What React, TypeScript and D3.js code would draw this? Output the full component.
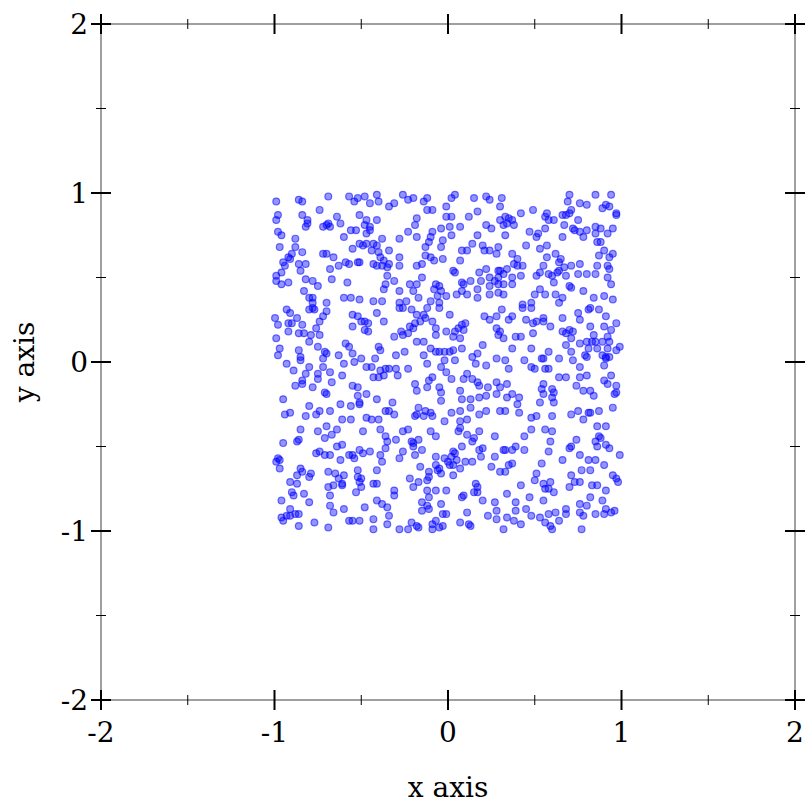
import React, { useEffect, useRef } from 'react';
import * as d3 from 'd3';

const majorTicks = [-2, -1, 0, 1, 2];
const minorTicks = [-1.5, -0.5, 0.5, 1.5];
const xLabel = 'x axis';
const yLabel = 'y axis';

// points, grouped by region of the square
const topLeft: [number, number][] = [
	[-0.99, 0.95], [-0.86, 0.96], [-0.84, 0.95], [-0.69, 0.98], [-0.57, 0.98], [-0.52, 0.97], [-0.48, 0.98], [-0.41, 0.99],
	[-0.45, 0.94], [-0.40, 0.95], [-0.34, 0.92], [-0.54, 0.95], [-0.74, 0.90], [-0.98, 0.87], [-0.99, 0.84], [-0.84, 0.87],
	[-0.81, 0.84], [-0.82, 0.80], [-0.81, 0.82], [-0.70, 0.81], [-0.69, 0.82], [-0.68, 0.80], [-0.72, 0.80], [-0.64, 0.86],
	[-0.62, 0.82], [-0.51, 0.87], [-0.47, 0.84], [-0.48, 0.81], [-0.45, 0.80], [-0.45, 0.78], [-0.47, 0.76], [-0.41, 0.84],
	[-0.56, 0.78], [-0.53, 0.78], [-0.60, 0.74], [-0.98, 0.77], [-0.96, 0.75], [-0.88, 0.73], [-0.38, 0.73], [-0.97, 0.68],
	[-0.88, 0.68], [-0.90, 0.64], [-0.92, 0.62], [-0.91, 0.61], [-0.84, 0.65], [-0.72, 0.64], [-0.70, 0.64], [-0.66, 0.62],
	[-0.55, 0.67], [-0.51, 0.70], [-0.49, 0.69], [-0.47, 0.70], [-0.43, 0.70], [-0.41, 0.69], [-0.44, 0.66], [-0.40, 0.65],
	[-0.34, 0.66], [-0.39, 0.62], [-0.37, 0.60], [-0.34, 0.58], [-0.95, 0.59], [-0.94, 0.57], [-0.86, 0.58], [-0.82, 0.58],
	[-0.63, 0.57], [-0.59, 0.59], [-0.57, 0.58], [-0.52, 0.59], [-0.51, 0.59], [-0.43, 0.58], [-0.41, 0.57], [-0.38, 0.57],
	[-0.35, 0.56], [-0.68, 0.55], [-0.85, 0.54], [-0.99, 0.51], [-0.96, 0.53], [-0.99, 0.48], [-0.96, 0.46], [-0.92, 0.47],
	[-0.82, 0.49], [-0.78, 0.48], [-0.75, 0.45], [-0.67, 0.49], [-0.58, 0.47], [-0.35, 0.51], [-0.36, 0.46], [-0.37, 0.43],
	[-0.83, 0.42], [-0.80, 0.38], [-0.78, 0.38], [-0.60, 0.38], [-0.56, 0.38], [-0.51, 0.37], [-0.43, 0.36], [-0.38, 0.36],
	[-0.70, 0.35], [-0.78, 0.35],
];

const topMiddle: [number, number][] = [
	[-0.26, 0.99], [-0.23, 0.96], [-0.20, 0.97], [-0.31, 0.94], [-0.14, 0.95], [-0.12, 0.97], [-0.12, 0.90], [-0.09, 0.90],
	[-0.01, 0.92], [0.02, 0.97], [0.04, 0.99], [-0.01, 0.86], [0.02, 0.86], [0.12, 0.86], [0.15, 0.97], [0.17, 0.89],
	[0.22, 0.98], [0.24, 0.96], [0.31, 0.97], [0.30, 0.92], [0.33, 0.86], [0.35, 0.85], [0.30, 0.84], [0.32, 0.81],
	[0.33, 0.75], [0.34, 0.82], [-0.18, 0.85], [-0.19, 0.81], [-0.23, 0.77], [-0.18, 0.74], [-0.28, 0.73], [-0.09, 0.77],
	[-0.10, 0.74], [-0.11, 0.71], [-0.13, 0.68], [-0.13, 0.63], [-0.10, 0.62], [-0.08, 0.60], [-0.04, 0.79], [0.01, 0.80],
	[0.07, 0.80], [0.02, 0.75], [-0.03, 0.72], [-0.04, 0.68], [0.22, 0.81], [0.25, 0.79], [0.17, 0.75], [0.14, 0.70],
	[0.20, 0.69], [0.21, 0.66], [0.24, 0.66], [0.29, 0.68], [0.28, 0.64], [0.08, 0.66], [0.11, 0.66], [0.07, 0.60],
	[-0.03, 0.61], [-0.28, 0.62], [-0.28, 0.57], [-0.18, 0.57], [-0.15, 0.58], [-0.15, 0.50], [0.03, 0.54], [0.04, 0.53],
	[0.18, 0.53], [0.22, 0.55], [0.24, 0.50], [0.29, 0.54], [0.30, 0.54], [0.32, 0.52], [0.34, 0.55], [0.29, 0.50],
	[0.27, 0.48], [0.24, 0.45], [0.29, 0.46], [0.32, 0.46], [-0.31, 0.48], [-0.22, 0.46], [-0.18, 0.46], [-0.20, 0.42],
	[-0.28, 0.42], [-0.07, 0.46], [-0.05, 0.45], [-0.08, 0.43], [-0.04, 0.42], [0.08, 0.47], [0.09, 0.46], [0.08, 0.42],
	[0.13, 0.48], [0.19, 0.48], [0.17, 0.43], [0.24, 0.40], [0.29, 0.41], [0.32, 0.40], [0.05, 0.40], [0.11, 0.40],
	[0.17, 0.38], [-0.01, 0.39], [-0.06, 0.39], [-0.10, 0.36], [-0.05, 0.35], [-0.17, 0.38], [-0.24, 0.36], [-0.28, 0.35],
];

const topRight: [number, number][] = [
	[0.70, 0.99], [0.69, 0.95], [0.85, 0.99], [0.94, 0.99], [0.76, 0.94], [0.80, 0.93], [0.89, 0.91], [0.91, 0.93],
	[0.93, 0.92], [0.97, 0.88], [0.97, 0.87], [0.49, 0.90], [0.42, 0.88], [0.37, 0.84], [0.38, 0.81], [0.57, 0.88],
	[0.56, 0.86], [0.58, 0.84], [0.61, 0.84], [0.66, 0.87], [0.68, 0.87], [0.70, 0.88], [0.71, 0.90], [0.75, 0.84],
	[0.67, 0.81], [0.47, 0.77], [0.52, 0.76], [0.51, 0.74], [0.56, 0.79], [0.72, 0.79], [0.73, 0.78], [0.76, 0.77],
	[0.78, 0.74], [0.80, 0.78], [0.85, 0.80], [0.88, 0.79], [0.85, 0.76], [0.92, 0.76], [0.95, 0.79], [0.66, 0.74],
	[0.45, 0.69], [0.53, 0.67], [0.57, 0.69], [0.86, 0.71], [0.88, 0.71], [0.90, 0.66], [0.95, 0.64], [0.93, 0.62],
	[0.87, 0.63], [0.37, 0.64], [0.40, 0.61], [0.38, 0.58], [0.40, 0.57], [0.43, 0.57], [0.55, 0.57], [0.57, 0.62],
	[0.62, 0.64], [0.65, 0.61], [0.64, 0.59], [0.67, 0.56], [0.71, 0.57], [0.76, 0.58], [0.86, 0.57], [0.92, 0.57],
	[0.93, 0.55], [0.92, 0.50], [0.42, 0.51], [0.53, 0.53], [0.51, 0.51], [0.58, 0.52], [0.60, 0.51], [0.63, 0.53],
	[0.64, 0.54], [0.61, 0.47], [0.68, 0.51], [0.75, 0.52], [0.80, 0.52], [0.85, 0.52], [0.94, 0.46], [0.70, 0.45],
	[0.71, 0.44], [0.78, 0.42], [0.84, 0.38], [0.90, 0.39], [0.95, 0.37], [0.37, 0.50], [0.37, 0.46], [0.50, 0.40],
	[0.53, 0.43], [0.56, 0.40], [0.62, 0.40], [0.66, 0.38], [0.43, 0.34], [0.48, 0.35], [0.64, 0.35],
];

const middleLeft: [number, number][] = [
	[-0.93, 0.31], [-0.91, 0.29], [-0.80, 0.31], [-0.78, 0.32], [-0.77, 0.31], [-0.70, 0.30], [-0.72, 0.27], [-0.74, 0.24],
	[-0.997, 0.26], [-0.98, 0.22], [-0.92, 0.23], [-0.90, 0.23], [-0.87, 0.26], [-0.84, 0.22], [-0.76, 0.20], [-0.74, 0.16],
	[-0.79, 0.16], [-0.99, 0.14], [-0.92, 0.18], [-0.86, 0.17], [-0.83, 0.17], [-0.80, 0.12], [-0.55, 0.28], [-0.52, 0.27],
	[-0.50, 0.24], [-0.48, 0.24], [-0.46, 0.23], [-0.55, 0.21], [-0.48, 0.19], [-0.46, 0.18], [-0.37, 0.24], [-0.41, 0.29],
	[-0.59, 0.11], [-0.57, 0.09], [-0.97, 0.08], [-0.98, 0.04], [-0.86, 0.07], [-0.85, 0.03], [-0.85, 0.01], [-0.75, 0.09],
	[-0.71, 0.06], [-0.70, 0.05], [-0.72, 0.02], [-0.63, 0.04], [-0.60, -0.01], [-0.55, 0.05], [-0.54, 0.00], [-0.50, 0.02],
	[-0.47, -0.03], [-0.44, -0.03], [-0.42, 0.02], [-0.40, 0.09], [-0.39, 0.07], [-0.39, -0.05], [-0.36, -0.04], [-0.34, -0.04],
	[-0.37, -0.08], [-0.40, -0.09], [-0.43, -0.09], [-0.93, -0.01], [-0.89, -0.05], [-0.80, -0.03], [-0.82, -0.07], [-0.84, -0.11],
	[-0.84, -0.13], [-0.88, -0.14], [-0.78, -0.15], [-0.75, -0.07], [-0.75, -0.10], [-0.72, -0.03], [-0.68, -0.06], [-0.67, -0.12],
	[-0.61, -0.08], [-0.55, -0.14], [-0.52, -0.15], [-0.95, -0.22], [-0.71, -0.18], [-0.70, -0.19], [-0.52, -0.20], [-0.47, -0.19],
	[-0.41, -0.22], [-0.51, -0.24], [-0.51, -0.25], [-0.94, -0.31], [-0.91, -0.30], [-0.80, -0.26], [-0.82, -0.32], [-0.76, -0.31],
	[-0.74, -0.29], [-0.68, -0.29], [-0.62, -0.25], [-0.61, -0.34], [-0.56, -0.26], [-0.56, -0.34], [-0.47, -0.33], [-0.44, -0.34],
	[-0.40, -0.34], [-0.36, -0.29], [-0.34, -0.29],
];

const center: [number, number][] = [
	[-0.28, 0.32], [-0.26, 0.32], [-0.21, 0.31], [-0.12, 0.32], [-0.05, 0.32], [-0.18, 0.28], [-0.14, 0.28], [-0.13, 0.26],
	[-0.16, 0.24], [-0.19, 0.23], [-0.22, 0.21], [-0.20, 0.20], [-0.23, 0.17], [-0.27, 0.18], [-0.31, 0.15], [-0.26, 0.16],
	[-0.09, 0.24], [-0.07, 0.20], [-0.07, 0.16], [-0.01, 0.18], [0.04, 0.18], [0.06, 0.20], [0.08, 0.22], [0.10, 0.23],
	[0.09, 0.19], [0.03, 0.15], [0.07, 0.14], [0.01, 0.28], [0.21, 0.27], [0.24, 0.25], [0.28, 0.27], [0.31, 0.31],
	[0.35, 0.25], [0.28, 0.20], [0.30, 0.18], [0.29, 0.16], [0.32, 0.14], [0.20, 0.10], [-0.18, 0.12], [-0.14, 0.12],
	[-0.10, 0.08], [-0.07, 0.06], [-0.05, 0.06], [-0.02, 0.06], [0.01, 0.06], [0.03, 0.07], [0.08, 0.08], [-0.14, 0.04],
	[-0.25, 0.06], [-0.30, 0.04], [-0.02, 0.01], [0.04, 0.01], [0.14, 0.03], [0.17, 0.05], [0.16, -0.01], [0.22, -0.02],
	[0.28, 0.02], [0.33, 0.01], [0.35, -0.04], [-0.04, -0.03], [-0.01, -0.06], [-0.09, -0.09], [-0.11, -0.11], [-0.30, -0.04],
	[-0.29, -0.08], [-0.23, -0.04], [-0.12, -0.01], [0.02, -0.10], [0.09, -0.10], [0.11, -0.07], [0.14, -0.10], [0.17, -0.12],
	[0.18, -0.14], [0.23, -0.15], [0.28, -0.12], [0.30, -0.15], [0.34, -0.13], [-0.19, -0.13], [-0.18, -0.17], [-0.12, -0.15],
	[-0.05, -0.15], [-0.04, -0.18], [0.07, -0.17], [0.13, -0.22], [0.18, -0.21], [0.22, -0.20], [0.28, -0.19], [0.34, -0.21],
	[-0.04, -0.23], [0.08, -0.22], [-0.32, -0.24], [-0.17, -0.27], [-0.13, -0.29], [-0.18, -0.31], [-0.19, -0.32], [-0.14, -0.32],
	[-0.10, -0.30], [-0.09, -0.32], [0.07, -0.29], [0.13, -0.27], [0.02, -0.30], [0.18, -0.31], [0.22, -0.29], [0.30, -0.29],
	[0.33, -0.29], [-0.31, -0.31], [-0.02, -0.35], [0.07, -0.35], [0.11, -0.34],
];

const middleRight: [number, number][] = [
	[0.43, 0.32], [0.48, 0.32], [0.66, 0.26], [0.75, 0.29], [0.76, 0.25], [0.81, 0.31], [0.82, 0.32], [0.87, 0.31],
	[0.91, 0.27], [0.97, 0.23], [0.37, 0.27], [0.45, 0.25], [0.49, 0.23], [0.51, 0.24], [0.55, 0.26], [0.55, 0.24],
	[0.59, 0.21], [0.49, 0.17], [0.39, 0.15], [0.42, 0.15], [0.37, 0.08], [0.48, 0.08], [0.58, 0.06], [0.44, 0.01],
	[0.48, -0.03], [0.50, -0.04], [0.54, 0.02], [0.55, 0.02], [0.56, -0.04], [0.58, -0.04], [0.64, 0.02], [0.66, 0.18],
	[0.68, 0.17], [0.70, 0.19], [0.72, 0.18], [0.71, 0.14], [0.68, 0.10], [0.76, 0.11], [0.80, 0.12], [0.83, 0.12],
	[0.81, 0.08], [0.85, 0.12], [0.86, 0.08], [0.89, 0.12], [0.92, 0.15], [0.93, 0.12], [0.92, 0.08], [0.97, 0.07],
	[0.99, 0.09], [0.89, 0.04], [0.91, 0.03], [0.91, 0.02], [0.93, 0.03], [0.90, -0.02], [0.82, 0.21], [0.84, 0.16],
	[0.90, 0.21], [0.94, 0.19], [0.79, 0.04], [0.80, 0.03], [0.71, 0.06], [0.72, 0.01], [0.76, -0.03], [0.64, -0.09],
	[0.68, -0.09], [0.76, -0.09], [0.80, -0.08], [0.90, -0.11], [0.92, -0.13], [0.94, -0.08], [0.97, -0.14], [0.97, -0.18],
	[0.96, -0.19], [0.74, -0.14], [0.78, -0.17], [0.82, -0.17], [0.84, -0.20], [0.60, -0.16], [0.61, -0.18], [0.60, -0.21],
	[0.61, -0.24], [0.55, -0.13], [0.54, -0.16], [0.55, -0.19], [0.53, -0.24], [0.37, -0.19], [0.41, -0.21], [0.40, -0.25],
	[0.41, -0.30], [0.48, -0.33], [0.51, -0.32], [0.60, -0.32], [0.71, -0.31], [0.75, -0.29], [0.78, -0.34], [0.81, -0.30],
	[0.82, -0.30], [0.87, -0.29], [0.95, -0.27],
];

const bottomLeft: [number, number][] = [
	[-0.85, -0.40], [-0.75, -0.41], [-0.71, -0.45], [-0.70, -0.38], [-0.67, -0.43], [-0.64, -0.40], [-0.49, -0.41], [-0.39, -0.40],
	[-0.36, -0.44], [-0.35, -0.47], [-0.36, -0.51], [-0.95, -0.48], [-0.87, -0.47], [-0.86, -0.46], [-0.76, -0.54], [-0.74, -0.53],
	[-0.71, -0.55], [-0.68, -0.55], [-0.64, -0.50], [-0.61, -0.49], [-0.62, -0.58], [-0.57, -0.55], [-0.55, -0.55], [-0.54, -0.57],
	[-0.51, -0.52], [-0.49, -0.54], [-0.45, -0.53], [-0.39, -0.55], [-0.38, -0.59], [-0.41, -0.64], [-0.98, -0.57], [-0.97, -0.58],
	[-0.99, -0.59], [-0.97, -0.63], [-0.85, -0.63], [-0.84, -0.65], [-0.87, -0.67], [-0.80, -0.68], [-0.79, -0.66], [-0.91, -0.71],
	[-0.87, -0.72], [-0.90, -0.77], [-0.89, -0.79], [-0.83, -0.78], [-0.69, -0.65], [-0.65, -0.66], [-0.63, -0.69], [-0.60, -0.67],
	[-0.61, -0.72], [-0.61, -0.73], [-0.66, -0.73], [-0.69, -0.74], [-0.68, -0.79], [-0.52, -0.64], [-0.52, -0.68], [-0.50, -0.69],
	[-0.51, -0.71], [-0.50, -0.74], [-0.53, -0.77], [-0.43, -0.72], [-0.41, -0.72], [-0.96, -0.82], [-0.80, -0.83], [-0.68, -0.85],
	[-0.66, -0.89], [-0.60, -0.87], [-0.48, -0.86], [-0.41, -0.82], [-0.38, -0.84], [-0.35, -0.86], [-0.34, -0.91], [-0.91, -0.87],
	[-0.93, -0.91], [-0.96, -0.92], [-0.95, -0.94], [-0.91, -0.91], [-0.88, -0.90], [-0.86, -0.90], [-0.77, -0.95], [-0.57, -0.94],
	[-0.55, -0.94], [-0.51, -0.94], [-0.43, -0.93], [-0.35, -0.96], [-0.86, -0.97], [-0.69, -0.98], [-0.43, -0.99],
];

const bottomMiddle: [number, number][] = [
	[-0.30, -0.46], [-0.26, -0.41], [-0.23, -0.40], [-0.21, -0.47], [-0.20, -0.48], [-0.20, -0.50], [-0.17, -0.46], [-0.15, -0.52],
	[-0.19, -0.55], [-0.26, -0.53], [-0.28, -0.57], [-0.10, -0.41], [-0.07, -0.44], [0.07, -0.39], [0.06, -0.41], [0.11, -0.43],
	[0.15, -0.45], [0.14, -0.47], [0.18, -0.41], [0.27, -0.44], [0.33, -0.52], [-0.07, -0.56], [-0.02, -0.57], [0.00, -0.59],
	[0.02, -0.56], [0.03, -0.53], [0.04, -0.54], [0.05, -0.58], [0.08, -0.50], [0.10, -0.59], [0.14, -0.59], [0.18, -0.52],
	[0.20, -0.51], [0.19, -0.56], [0.25, -0.62], [0.30, -0.65], [0.33, -0.65], [0.35, -0.61], [0.27, -0.56], [0.32, -0.52],
	[-0.16, -0.62], [-0.11, -0.65], [-0.11, -0.68], [-0.12, -0.70], [-0.07, -0.61], [-0.06, -0.64], [-0.04, -0.66], [-0.05, -0.63],
	[0.03, -0.61], [0.01, -0.61], [0.07, -0.63], [0.03, -0.67], [-0.22, -0.69], [-0.20, -0.74], [-0.17, -0.71], [-0.31, -0.76],
	[-0.31, -0.79], [-0.12, -0.76], [-0.11, -0.80], [-0.07, -0.76], [-0.01, -0.76], [0.16, -0.72], [0.17, -0.74], [0.17, -0.77],
	[0.15, -0.77], [0.09, -0.79], [0.08, -0.80], [0.20, -0.82], [0.27, -0.83], [0.34, -0.78], [-0.15, -0.83], [-0.15, -0.88],
	[-0.12, -0.85], [-0.11, -0.87], [-0.04, -0.84], [-0.03, -0.90], [-0.01, -0.90], [0.11, -0.89], [0.23, -0.91], [0.28, -0.88],
	[0.28, -0.93], [0.34, -0.92], [-0.21, -0.95], [-0.18, -0.97], [-0.17, -0.98], [-0.28, -0.99], [-0.23, -0.99], [-0.09, -0.96],
	[-0.09, -0.99], [-0.05, -0.98], [-0.03, -0.97], [-0.07, -0.94], [0.07, -0.95], [0.12, -0.96], [0.13, -0.97], [0.32, -0.99],
];

const bottomRight: [number, number][] = [
	[0.48, -0.40], [0.56, -0.40], [0.60, -0.41], [0.44, -0.44], [0.39, -0.50], [0.37, -0.52], [0.44, -0.52], [0.59, -0.47],
	[0.58, -0.53], [0.71, -0.50], [0.70, -0.51], [0.74, -0.46], [0.76, -0.55], [0.66, -0.58], [0.54, -0.60], [0.37, -0.60],
	[0.86, -0.38], [0.91, -0.38], [0.87, -0.44], [0.88, -0.45], [0.85, -0.47], [0.86, -0.50], [0.91, -0.49], [0.93, -0.51],
	[0.99, -0.55], [0.81, -0.58], [0.85, -0.58], [0.90, -0.61], [0.77, -0.64], [0.82, -0.64], [0.51, -0.66], [0.50, -0.70],
	[0.55, -0.72], [0.59, -0.71], [0.56, -0.75], [0.58, -0.75], [0.61, -0.77], [0.42, -0.73], [0.71, -0.67], [0.70, -0.74],
	[0.73, -0.71], [0.76, -0.71], [0.83, -0.73], [0.86, -0.73], [0.91, -0.76], [0.95, -0.67], [0.97, -0.69], [0.98, -0.71],
	[0.47, -0.80], [0.55, -0.82], [0.39, -0.83], [0.45, -0.87], [0.39, -0.88], [0.48, -0.91], [0.53, -0.92], [0.58, -0.90],
	[0.62, -0.89], [0.68, -0.87], [0.68, -0.90], [0.76, -0.84], [0.80, -0.85], [0.82, -0.80], [0.89, -0.82], [0.91, -0.87],
	[0.94, -0.89], [0.96, -0.88], [0.90, -0.90], [0.85, -0.90], [0.76, -0.89], [0.78, -0.91], [0.38, -0.94], [0.42, -0.96],
	[0.56, -0.95], [0.59, -0.97], [0.64, -0.94], [0.60, -0.99], [0.77, -0.99],
];

const points = [
	...topLeft, ...topMiddle, ...topRight,
	...middleLeft, ...center, ...middleRight,
	...bottomLeft, ...bottomMiddle, ...bottomRight,
];

const App = () => {
	const chartRef = useRef<SVGSVGElement>(null);

	useEffect(() => {
		const svg = d3.select(chartRef.current);
		svg.selectAll('*').remove();

		const x = d3.scaleLinear().domain([-2, 2]).range([101, 795]);
		const y = d3.scaleLinear().domain([-2, 2]).range([700, 24]);
		const font = '"DejaVu Serif", serif';

		svg.append('g')
			.selectAll('circle')
			.data(points)
			.join('circle')
			.attr('cx', d => x(d[0]))
			.attr('cy', d => y(d[1]))
			.attr('r', 3.4)
			.attr('fill', 'blue')
			.attr('fill-opacity', 0.42)
			.attr('stroke', 'blue')
			.attr('stroke-opacity', 0.55)
			.attr('stroke-width', 1.2);

		// frame
		svg.append('rect')
			.attr('x', x(-2))
			.attr('y', y(2))
			.attr('width', x(2) - x(-2))
			.attr('height', y(-2) - y(2))
			.attr('fill', 'none')
			.attr('stroke', '#808080')
			.attr('stroke-width', 1.5);

		const ticks = svg.append('g').attr('stroke', 'black');
		const drawTicks = (vals: number[], len: number, w: number) => {
			vals.forEach(v => {
				[y(-2), y(2)].forEach(yy => {
					ticks.append('line')
						.attr('x1', x(v)).attr('x2', x(v))
						.attr('y1', yy - len).attr('y2', yy + len)
						.attr('stroke-width', w);
				});
				[x(-2), x(2)].forEach(xx => {
					ticks.append('line')
						.attr('y1', y(v)).attr('y2', y(v))
						.attr('x1', xx - len).attr('x2', xx + len)
						.attr('stroke-width', w);
				});
			});
		};
		drawTicks(majorTicks, 10, 2);
		drawTicks(minorTicks, 5, 1);

		svg.append('g')
			.selectAll('text')
			.data(majorTicks)
			.join('text')
			.attr('x', d => x(d))
			.attr('y', y(-2) + 42)
			.attr('text-anchor', 'middle')
			.style('font-family', font)
			.style('font-size', '28px')
			.text(d => String(d));

		svg.append('g')
			.selectAll('text')
			.data(majorTicks)
			.join('text')
			.attr('x', x(-2) - 13)
			.attr('y', d => y(d))
			.attr('dy', '0.36em')
			.attr('text-anchor', 'end')
			.style('font-family', font)
			.style('font-size', '28px')
			.text(d => String(d));

		svg.append('text')
			.attr('x', x(0))
			.attr('y', 797)
			.attr('text-anchor', 'middle')
			.style('font-family', font)
			.style('font-size', '28px')
			.text(xLabel);

		svg.append('text')
			.attr('transform', `translate(34,${y(0)}) rotate(-90)`)
			.attr('text-anchor', 'middle')
			.style('font-family', font)
			.style('font-size', '28px')
			.text(yLabel);
	}, []);

	return (
		<svg
			ref={chartRef}
			width={812}
			height={812}
			style={{ position: 'absolute', left: 0, top: 0, background: 'white' }}
		/>
	);
};

export default App;
